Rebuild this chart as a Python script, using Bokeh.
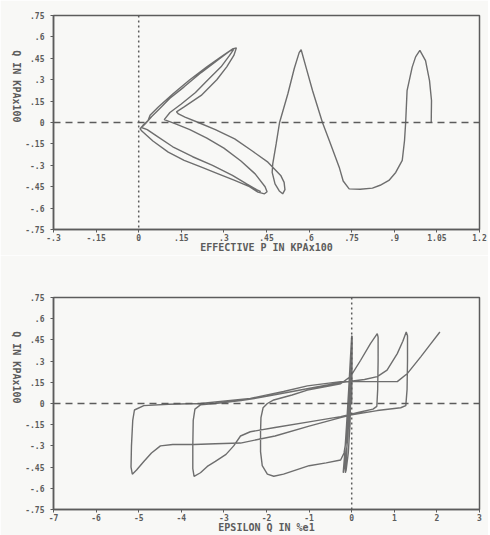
import math
from bokeh.plotting import figure
from bokeh.models import Span, FixedTicker, Range1d
from bokeh.layouts import column
from bokeh.embed import file_html
from bokeh.resources import INLINE

# ---------------- data ----------------
top_xticks = [-0.3, -0.15, 0, 0.15, 0.3, 0.45, 0.6, 0.75, 0.9, 1.05, 1.2]
top_xlabels = ["-.3", "-.15", "0", ".15", ".3", ".45", ".6", ".75", ".9", "1.05", "1.2"]
bot_xticks = [-7, -6, -5, -4, -3, -2, -1, 0, 1, 2, 3]
bot_xlabels = ["-7", "-6", "-5", "-4", "-3", "-2", "-1", "0", "1", "2", "3"]
yticks = [-0.75, -0.6, -0.45, -0.3, -0.15, 0, 0.15, 0.3, 0.45, 0.6, 0.75]
ylabels = ["-.75", "-.6", "-.45", "-.3", "-.15", "0", ".15", ".3", ".45", ".6", ".75"]

top_xlabel = "EFFECTIVE P IN KPAx100"
bot_xlabel = "EPSILON Q IN %e1"
ylabel_text = "Q IN KPAx100"

# effective stress path: p' (KPA x100) and q (KPA x100)
top_p = [1.03, 1.031, 1.024, 1.01, 0.99, 0.975, 0.963, 0.945, 0.94, 0.936, 0.928, 0.905, 0.881, 0.85, 0.823,
         0.78, 0.741, 0.72, 0.706, 0.671, 0.647, 0.612, 0.589, 0.572, 0.565, 0.548, 0.525, 0.496, 0.484, 0.472,
         0.47, 0.48, 0.495, 0.507, 0.515, 0.512, 0.50, 0.455, 0.40, 0.338, 0.27, 0.21, 0.163, 0.14, 0.133,
         0.16, 0.22, 0.275, 0.31, 0.335, 0.344,
         0.33, 0.29, 0.24, 0.18, 0.12, 0.07, 0.04, 0.033, 0.015, 0.005,
         0.011, 0.05, 0.104, 0.16, 0.221, 0.28, 0.338, 0.39, 0.42, 0.443, 0.452, 0.445,
         0.41, 0.36, 0.30, 0.24, 0.18, 0.13, 0.09,
         0.11, 0.15, 0.20, 0.244, 0.29, 0.32, 0.335,
         0.32, 0.28, 0.22, 0.16, 0.11, 0.07, 0.045, 0.025, 0.01,
         0.03, 0.06, 0.12, 0.19, 0.26, 0.33, 0.38, 0.415, 0.43]
top_q = [0.0, 0.154, 0.294, 0.434, 0.505, 0.46, 0.388, 0.224, 0.0, -0.126, -0.266, -0.35, -0.406, -0.44, -0.46,
         -0.468, -0.465, -0.41, -0.313, -0.126, 0.0, 0.224, 0.388, 0.51, 0.49, 0.38, 0.2, 0.0, -0.15, -0.29,
         -0.35, -0.43, -0.48, -0.50, -0.47, -0.42, -0.371, -0.278, -0.20, -0.115, -0.05, 0.0, 0.037, 0.06, 0.075,
         0.11, 0.19, 0.30, 0.39, 0.47, 0.523,
         0.515, 0.46, 0.39, 0.30, 0.20, 0.11, 0.05, 0.014, -0.02, -0.044,
         -0.06, -0.13, -0.208, -0.265, -0.313, -0.36, -0.406, -0.45, -0.488, -0.50, -0.485, -0.45,
         -0.36, -0.27, -0.18, -0.11, -0.05, -0.01, 0.02,
         0.07, 0.13, 0.21, 0.30, 0.39, 0.47, 0.515,
         0.50, 0.44, 0.35, 0.25, 0.17, 0.09, 0.04, -0.005, -0.035,
         -0.05, -0.09, -0.17, -0.24, -0.30, -0.37, -0.43, -0.47, -0.485]

# stress-strain: epsilon q (%) and q (KPA x100)
bot_eps = [0, 0.005, 0.01, 0.01, 0.0, -0.02, -0.04, -0.08, -0.13, -0.15, -0.12, -0.08, -0.04, -0.01, 0.005,
           -0.01, -0.03, -0.06, -0.11, -0.17, -0.20, -0.17, -0.12, -0.07, -0.03, 0.0, -0.01, -0.03, -0.05, -0.1,
           -0.18, -0.26,
           -0.6, -1.0, -1.3, -1.6, -1.83, -1.98, -2.1, -2.14, -2.14, -2.13, -2.08, -1.98, -1.83, -1.4, -1.04,
           -0.6, -0.26, -0.03, 0.21, 0.44, 0.6, 0.62, 0.62, 0.61, 0.59, 0.5, 0.2, -0.26, -1.0, -1.8, -2.38,
           -2.61, -2.77, -2.95, -3.2, -3.39, -3.55, -3.7, -3.73, -3.73, -3.72, -3.68, -3.55, -3.2, -2.6, -2.0,
           -1.3, -0.6, -0.2, 0.3, 0.6, 0.83, 1.07, 1.2, 1.28, 1.31, 1.31, 1.3, 1.27, 1.15, 0.6, 0.0, -0.26,
           -1.0, -1.8, -2.61, -3.2, -3.7, -4.2, -4.49, -4.7, -4.88, -5.05, -5.15, -5.18, -5.17, -5.14, -5.1,
           -4.88, -4.3, -3.55, -2.38, -1.6, -1.04, -0.26, 0.5, 1.07, 1.3, 1.62, 1.85, 2.07]
bot_q = [0, 0.2, 0.4, 0.48, 0.35, 0.1, -0.15, -0.35, -0.47, -0.49, -0.35, -0.1, 0.15, 0.35, 0.48,
         0.38, 0.15, -0.1, -0.3, -0.45, -0.49, -0.38, -0.15, 0.1, 0.32, 0.48, 0.4, 0.2, 0.0, -0.2,
         -0.35, -0.40,
         -0.42, -0.44, -0.47, -0.50, -0.515, -0.50, -0.44, -0.34, -0.2, -0.1, -0.03, 0.0, 0.025, 0.06, 0.095,
         0.12, 0.14, 0.19, 0.306, 0.424, 0.494, 0.47, 0.3, 0.1, -0.02, -0.04, -0.06, -0.093, -0.13, -0.17, -0.2,
         -0.23, -0.30, -0.36, -0.41, -0.445, -0.49, -0.515, -0.46, -0.3, -0.12, -0.04, -0.01, 0.0, 0.02, 0.05,
         0.09, 0.13, 0.15, 0.17, 0.19, 0.236, 0.353, 0.44, 0.506, 0.48, 0.3, 0.1, -0.015, -0.03, -0.05, -0.08, -0.1,
         -0.16, -0.23, -0.28, -0.285, -0.29, -0.29, -0.30, -0.35, -0.41, -0.47, -0.50, -0.45, -0.3, -0.12, -0.046,
         -0.015, -0.005, 0.0, 0.036, 0.085, 0.125, 0.155, 0.155, 0.155, 0.21, 0.33, 0.42, 0.506]

# ---------------- styling ----------------
BG = "#f8f8f6"
INK = "#5c5c5c"
CURVE = "#6e6e6e"
FONT = "DejaVu Sans Mono"
FIG_W = 488


def make_fig(xr, xticks, xlabels, xlabel, height, border_top, border_bottom, border_right):
    p = figure(width=FIG_W, height=height, x_range=Range1d(*xr), y_range=Range1d(-0.75, 0.75),
               output_backend="svg", toolbar_location=None,
               min_border_left=53, min_border_right=border_right,
               min_border_top=border_top, min_border_bottom=border_bottom,
               background_fill_color=BG, border_fill_color=BG)
    p.xgrid.visible = False
    p.ygrid.visible = False
    p.outline_line_color = INK
    p.outline_line_width = 1.5
    p.outline_line_alpha = 1.0
    for ax in (p.xaxis[0], p.yaxis[0]):
        ax.axis_line_color = INK
        ax.axis_line_width = 1.5
        ax.major_tick_line_color = INK
        ax.major_tick_out = 3
        ax.major_tick_in = 0
        ax.minor_tick_line_color = None
        ax.major_label_text_font = FONT
        ax.major_label_text_font_size = "8px"
        ax.major_label_text_font_style = "bold"
        ax.major_label_text_color = INK
        ax.axis_label_text_font = FONT
        ax.axis_label_text_font_size = "10px"
        ax.axis_label_text_font_style = "bold"
        ax.axis_label_text_color = INK
    p.xaxis.ticker = FixedTicker(ticks=xticks)
    p.xaxis.major_label_overrides = {t: l for t, l in zip(xticks, xlabels)}
    p.yaxis.ticker = FixedTicker(ticks=yticks)
    p.yaxis.major_label_overrides = {t: l for t, l in zip(yticks, ylabels)}
    p.xaxis.major_label_standoff = 1
    p.yaxis.major_label_standoff = 6
    p.xaxis.axis_label = xlabel
    p.xaxis.axis_label_standoff = -2
    yax = p.yaxis[0]
    yax.axis_label = ylabel_text
    yax.axis_label_standoff = 6
    if "axis_label_orientation" in yax.properties():
        yax.axis_label_orientation = -math.pi / 2

    p.add_layout(Span(location=0, dimension="width", line_color=INK, line_width=1.5, line_dash="7 5"))
    p.add_layout(Span(location=0, dimension="height", line_color=INK, line_width=1.5, line_dash="2 3"))
    return p


p1 = make_fig((-0.3, 1.2), top_xticks, top_xlabels, top_xlabel, 255, 15, 26, 7)
p1.line(top_p, top_q, line_color=CURVE, line_width=1.4)

p2 = make_fig((-7, 3), bot_xticks, bot_xlabels, bot_xlabel, 280, 42, 26, 9)
p2.line(bot_eps, bot_q, line_color=CURVE, line_width=1.4)

layout = column(p1, p2, spacing=0)
open("out.html", "w").write(file_html(layout, INLINE))
